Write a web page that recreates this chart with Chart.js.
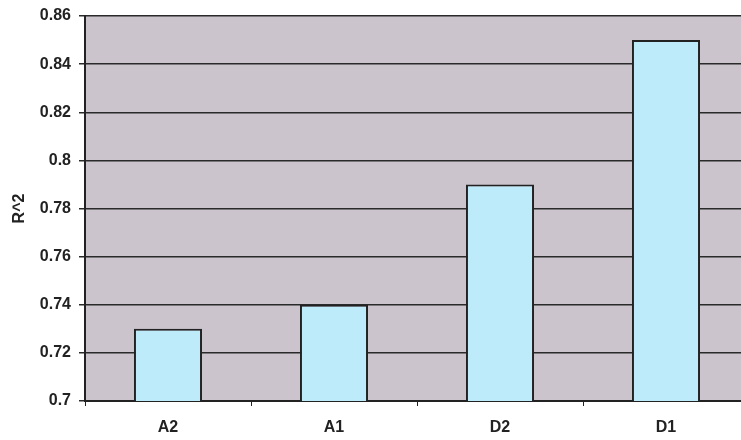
<!DOCTYPE html>
<html>
<head>
<meta charset="utf-8">
<script src="https://cdn.jsdelivr.net/npm/chart.js@4/dist/chart.umd.min.js"></script>
<style>
  html, body { margin: 0; padding: 0; background: #fff; overflow: hidden; }
  #wrap { width: 750px; height: 440px; }
</style>
</head>
<body>
<div id="wrap"><canvas id="r2Chart" width="750" height="440"></canvas></div>
<script>
// Chart data
const categories = ['A2', 'A1', 'D2', 'D1'];
const r2Values = [0.73, 0.74, 0.79, 0.85];
const yTicks = [0.7, 0.72, 0.74, 0.76, 0.78, 0.8, 0.82, 0.84, 0.86];

// Grey plot background, like the old Excel charts
const plotBackground = {
    id: 'plotBackground',
    beforeDraw(chart) {
        const { ctx, chartArea: a } = chart;
        ctx.save();
        ctx.fillStyle = '#cbc4cd';
        ctx.fillRect(a.left, a.top, a.right - a.left, a.bottom - a.top);
        ctx.strokeStyle = '#9a9a9a';
        ctx.lineWidth = 1;
        ctx.beginPath();
        ctx.moveTo(a.left, a.top - 0.5);
        ctx.lineTo(a.right, a.top - 0.5);
        ctx.stroke();
        ctx.restore();
    }
};

const ctx = document.getElementById('r2Chart').getContext('2d');
new Chart(ctx, {
    type: 'bar',
    data: {
        labels: categories,
        datasets: [{
            label: 'R^2',
            data: r2Values,
            backgroundColor: '#bdebfa',
            borderColor: '#222',
            borderWidth: 2,
            barPercentage: 0.41,
            categoryPercentage: 1
        }]
    },
    options: {
        responsive: false,
        animation: false,
        layout: { padding: { top: 15, right: 1, left: 0, bottom: 0 } },
        plugins: {
            legend: { display: false },
            tooltip: { enabled: false }
        },
        scales: {
            x: {
                grid: {
                    offset: true,
                    drawOnChartArea: false,
                    color: '#222',
                    tickLength: 5
                },
                border: { color: '#222', width: 2 },
                ticks: {
                    color: '#222',
                    padding: 12,
                    font: { family: 'Liberation Sans, Arial', size: 16, weight: 'bold' }
                },
                afterFit: s => { s.height = 39; }
            },
            y: {
                min: 0.7,
                max: 0.86,
                afterBuildTicks: s => { s.ticks = yTicks.map(v => ({ value: v })); },
                grid: {
                    color: '#2a2a2a',
                    lineWidth: 1.5,
                    tickLength: 6
                },
                border: { color: '#222', width: 2 },
                ticks: {
                    color: '#222',
                    padding: 8,
                    font: { family: 'Liberation Sans, Arial', size: 16, weight: 'bold', lineHeight: 1 },
                    callback: v => String(Math.round(v * 100) / 100)
                },
                title: {
                    display: true,
                    text: 'R^2',
                    color: '#222',
                    padding: { top: 10, bottom: 4 },
                    font: { family: 'Liberation Sans, Arial', size: 16, weight: 'bold' }
                },
                afterFit: s => { s.width = 85; }
            }
        }
    },
    plugins: [plotBackground]
});
</script>
</body>
</html>
